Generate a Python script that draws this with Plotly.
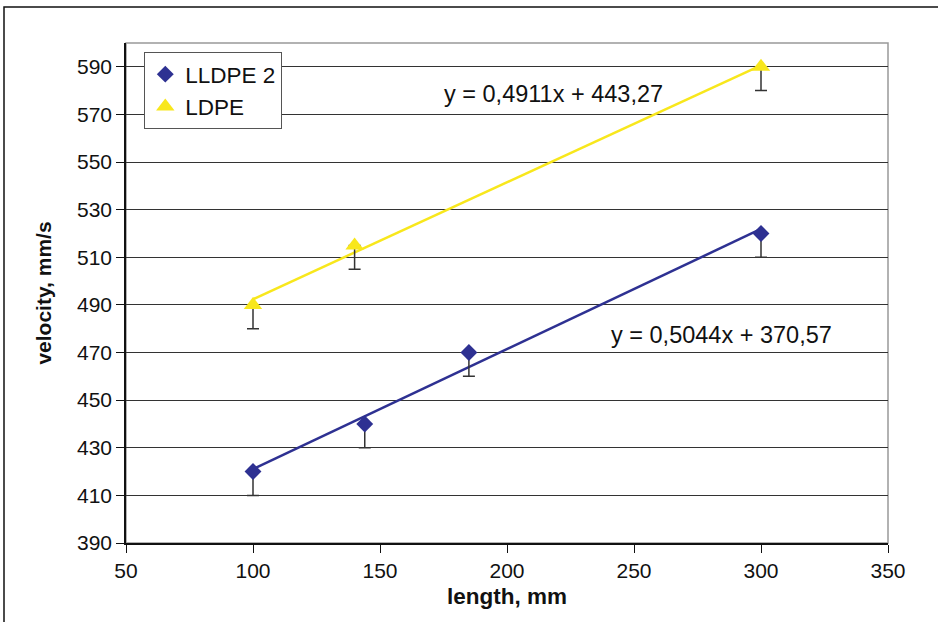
import numpy as np
import plotly.graph_objects as go

# Data
lldpe_x = [100, 144, 185, 300]
lldpe_y = [420, 440, 470, 520]
lldpe_err_minus = [10, 10, 10, 10]

ldpe_x = [100, 140, 300]
ldpe_y = [490, 515, 590]
ldpe_err_minus = [10, 10, 10]

# Trendline coefficients (slope, intercept)
lldpe_fit = (0.5044, 370.57)
ldpe_fit = (0.4911, 443.27)
fit_range = [100, 300]

x_ticks = [50, 100, 150, 200, 250, 300, 350]
y_ticks = [390, 410, 430, 450, 470, 490, 510, 530, 550, 570, 590]

navy = "#2E3192"
yellow = "#F8E71C"
font = "Liberation Sans, Arial, sans-serif"

fig = go.Figure()

fx = np.array(fit_range, dtype=float)
fig.add_trace(go.Scatter(x=fx, y=ldpe_fit[0] * fx + ldpe_fit[1], mode="lines",
                         line=dict(color=yellow, width=2.5), showlegend=False, hoverinfo="skip"))
fig.add_trace(go.Scatter(x=fx, y=lldpe_fit[0] * fx + lldpe_fit[1], mode="lines",
                         line=dict(color=navy, width=2.5), showlegend=False, hoverinfo="skip"))

fig.add_trace(go.Scatter(
    x=lldpe_x, y=lldpe_y, mode="markers", name="LLDPE 2", legendgroup="a",
    marker=dict(symbol="diamond", size=13, color=navy),
    error_y=dict(type="data", symmetric=False, array=[0] * len(lldpe_x),
                 arrayminus=lldpe_err_minus, color="#333333", thickness=1.5, width=6),
))
fig.add_trace(go.Scatter(
    x=ldpe_x, y=ldpe_y, mode="markers", name="LDPE", legendgroup="b",
    marker=dict(symbol="triangle-up", size=16, color=yellow),
    error_y=dict(type="data", symmetric=False, array=[0] * len(ldpe_x),
                 arrayminus=ldpe_err_minus, color="#333333", thickness=1.5, width=6),
))

fig.add_annotation(text="y = 0,4911x + 443,27", x=(553 - 126) / 762, y=(543 - 94) / 500,
                   xref="paper", yref="paper", showarrow=False, xanchor="center", yanchor="middle",
                   font=dict(family=font, size=23.5, color="#111111"))
fig.add_annotation(text="y = 0,5044x + 370,57", x=(721 - 126) / 762, y=(543 - 335) / 500,
                   xref="paper", yref="paper", showarrow=False, xanchor="center", yanchor="middle",
                   font=dict(family=font, size=23.5, color="#111111"))

# Outer frame
fig.add_shape(type="rect", xref="paper", yref="paper",
              x0=(4 - 126) / 762, x1=(945 - 126) / 762,
              y0=(543 - 630) / 500, y1=(543 - 7) / 500,
              line=dict(color="#111111", width=1.5), fillcolor="rgba(0,0,0,0)", layer="below")

fig.update_layout(
    width=938, height=622,
    margin=dict(l=126, r=50, t=43, b=79),
    paper_bgcolor="white", plot_bgcolor="white",
    font=dict(family=font, size=21, color="#111111"),
    legend=dict(x=0.024, y=0.982, xanchor="left", yanchor="top",
                bordercolor="#555555", borderwidth=1, bgcolor="white",
                font=dict(size=22.5), itemwidth=30, tracegroupgap=0),
    xaxis=dict(range=[50, 350], tickvals=x_ticks, showgrid=False, zeroline=False,
               showline=True, linecolor="#111111", linewidth=1.5, mirror=False,
               ticks="outside", ticklen=8, tickcolor="#111111",
               title=dict(text="<b>length, mm</b>", standoff=7, font=dict(size=22.5))),
    yaxis=dict(range=[390, 600], tickvals=y_ticks, showgrid=True, gridcolor="#333333", gridwidth=1,
               zeroline=False, showline=True, linecolor="#111111", linewidth=1.5,
               ticks="outside", ticklen=8, tickcolor="#111111",
               title=dict(text="<b>velocity, mm/s</b>", standoff=20, font=dict(size=21))),
)

# gray plot-area frame for top and right
fig.add_shape(type="rect", xref="x domain", yref="y domain", x0=0, x1=1, y0=0, y1=1,
              line=dict(color="#999999", width=1.5), fillcolor="rgba(0,0,0,0)", layer="below")

fig.write_html("out.html")
